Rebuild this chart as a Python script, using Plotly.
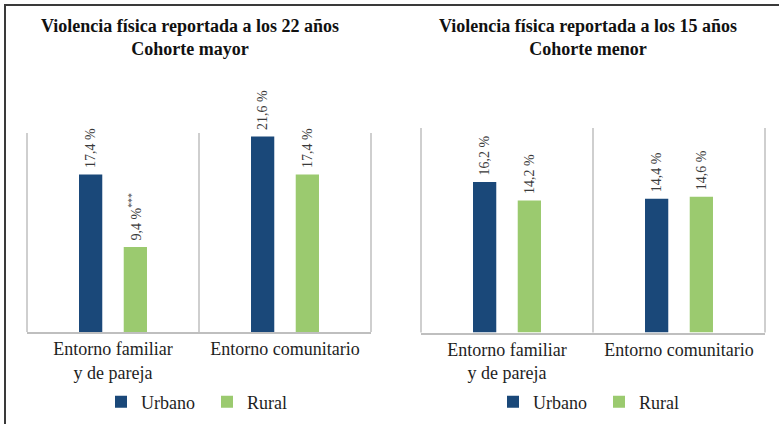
import plotly.graph_objects as go

# ---- data ----
categories = ["Entorno familiar<br>y de pareja", "Entorno comunitario"]
series_names = ["Urbano", "Rural"]
urbano_22 = [17.4, 21.6]
rural_22 = [9.4, 17.4]
rural_22_sig = ["***", ""]
urbano_15 = [16.2, 14.4]
rural_15 = [14.2, 14.6]
titles = ["Violencia física reportada a los 22 años<br>Cohorte mayor",
          "Violencia física reportada a los 15 años<br>Cohorte menor"]

COL_U = "#1A4879"
COL_R = "#9BCA6F"
SERIF = "Liberation Serif"
LBL_COL = "#3A3A3A"


def fmt(vals, sig=None):
    out = []
    for i, v in enumerate(vals):
        s = "\u00a0" + f"{v:.1f}".replace(".", ",") + " %"
        if sig and sig[i]:
            s += "<sup>" + sig[i] + "</sup>"
        out.append(s)
    return out


fig = go.Figure()

panels = [
    ("x", "y", "legend", urbano_22, rural_22, None, rural_22_sig),
    ("x2", "y2", "legend2", urbano_15, rural_15, None, None),
]
for xa, ya, lg, u, r, usig, rsig in panels:
    for name, vals, col, sig in [(series_names[0], u, COL_U, usig),
                                 (series_names[1], r, COL_R, rsig)]:
        fig.add_trace(go.Bar(
            x=categories, y=vals, name=name, marker_color=col,
            marker_line_width=0,
            text=fmt(vals, sig), textposition="outside", textangle=-90,
            constraintext="none",
            textfont=dict(family=SERIF, size=14, color=LBL_COL),
            cliponaxis=False, xaxis=xa, yaxis=ya, legend=lg,
            hoverinfo="skip",
        ))

W, H = 779, 424
axis_common = dict(showgrid=False, zeroline=False, showline=True,
                   linecolor="#BFBFBF", linewidth=1.5, ticks="",
                   tickfont=dict(family=SERIF, size=18, color="#1E1E1E"),
                   fixedrange=True)
yaxis_common = dict(range=[0, 22], visible=False, fixedrange=True)

fig.update_layout(
    width=W, height=H,
    margin=dict(l=0, r=0, t=0, b=0),
    paper_bgcolor="white", plot_bgcolor="white",
    font=dict(family=SERIF),
    barmode="group", bargap=0.48, bargroupgap=0.48,
    xaxis=dict(domain=[27 / W, 371 / W], anchor="y", **axis_common),
    yaxis=dict(domain=[92 / H, 291 / H], anchor="x", **yaxis_common),
    xaxis2=dict(domain=[421 / W, 765 / W], anchor="y2", **axis_common),
    yaxis2=dict(domain=[91.5 / H, 296 / H], anchor="x2", **yaxis_common),
    legend=dict(orientation="h", x=207 / W, xanchor="center",
                y=1 - 402 / H, yanchor="middle",
                font=dict(family=SERIF, size=18, color="#1E1E1E"),
                entrywidth=61, entrywidthmode="pixels",
                bgcolor="rgba(0,0,0,0)"),
    legend2=dict(orientation="h", x=599 / W, xanchor="center",
                 y=1 - 402 / H, yanchor="middle",
                 font=dict(family=SERIF, size=18, color="#1E1E1E"),
                 entrywidth=61, entrywidthmode="pixels",
                 bgcolor="rgba(0,0,0,0)"),
    showlegend=True,
)

# titles
for cx, t in zip([190 / W, 587.5 / W], titles):
    fig.add_annotation(text="<b>" + t + "</b>", xref="paper", yref="paper",
                       x=cx, y=1 - 37 / H, xanchor="center", yanchor="middle",
                       showarrow=False,
                       font=dict(family=SERIF, size=18, color="#111111"))

# category divider lines (left, middle, right) in each panel
for xr, yr in [("x domain", "y domain"), ("x2 domain", "y2 domain")]:
    for xv in [0, 0.5, 1]:
        fig.add_shape(type="line", xref=xr, yref=yr, x0=xv, x1=xv, y0=0, y1=1,
                      line=dict(color="#BFBFBF", width=1.5), layer="below")

# outer frame (top and left)
fig.add_shape(type="line", xref="paper", yref="paper", x0=4 / W, x1=1,
              y0=1 - 5 / H, y1=1 - 5 / H, line=dict(color="#3A3A3A", width=2))
fig.add_shape(type="line", xref="paper", yref="paper", x0=5 / W, x1=5 / W,
              y0=0, y1=1 - 4 / H, line=dict(color="#3A3A3A", width=2))

fig.write_html("out.html",
               config={"displayModeBar": False},
               post_script="document.body.style.margin='0px';")
